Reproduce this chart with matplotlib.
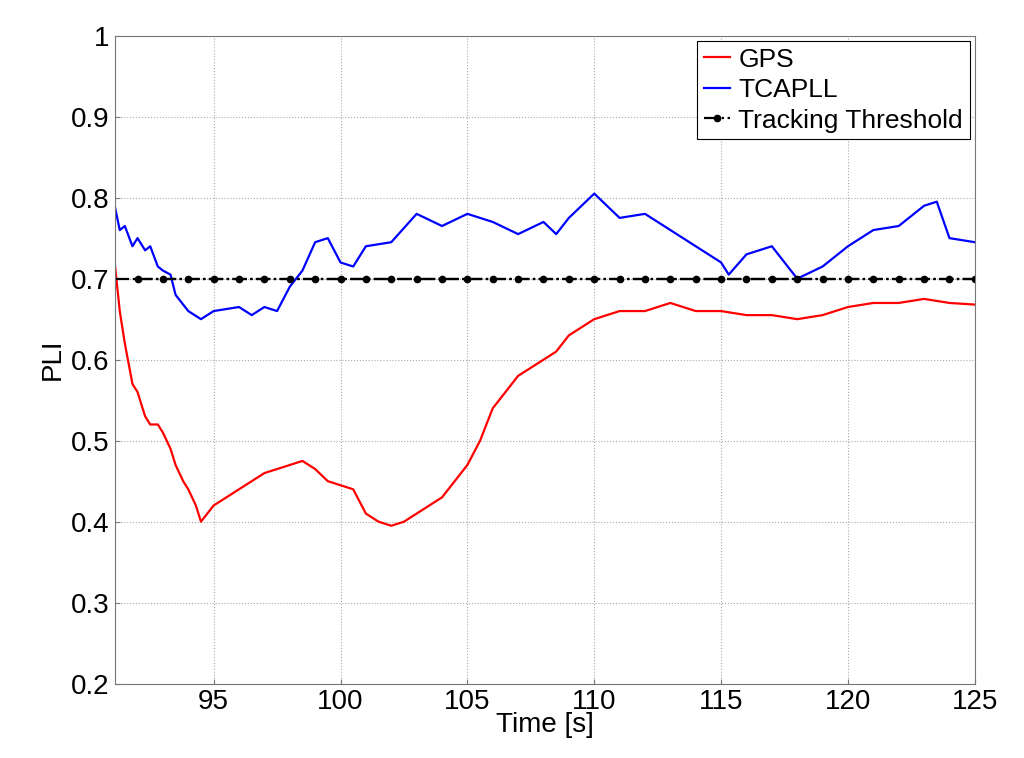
import matplotlib
matplotlib.use("Agg")
import matplotlib.pyplot as plt
import numpy as np

plt.rcParams["font.family"] = "Liberation Sans"

gps_t = [91.1,91.3,91.5,91.8,92,92.3,92.5,92.8,93,93.3,93.5,93.8,94,94.3,94.5,95,96,97,98,98.5,99,99.5,100,100.5,101,101.5,102,102.5,103,104,104.5,105,105.5,106,107,108,108.5,109,110,111,112,113,114,115,116,117,118,119,120,121,122,123,124,125]
gps_v = [0.72,0.66,0.62,0.57,0.56,0.53,0.52,0.52,0.51,0.49,0.47,0.45,0.44,0.42,0.40,0.42,0.44,0.46,0.47,0.475,0.465,0.45,0.445,0.44,0.41,0.40,0.395,0.40,0.41,0.43,0.45,0.47,0.50,0.54,0.58,0.60,0.61,0.63,0.65,0.66,0.66,0.67,0.66,0.66,0.655,0.655,0.65,0.655,0.665,0.67,0.67,0.675,0.67,0.668]
tca_t = [91.1,91.3,91.5,91.8,92,92.3,92.5,92.8,93,93.3,93.5,94,94.5,95,96,96.5,97,97.5,98,98.5,99,99.5,100,100.5,101,102,103,104,105,106,107,108,108.5,109,110,110.5,111,112,113,114,115,115.3,116,117,117.5,118,119,120,121,122,123,123.5,124,125]
tca_v = [0.79,0.76,0.765,0.74,0.75,0.735,0.74,0.715,0.71,0.705,0.68,0.66,0.65,0.66,0.665,0.655,0.665,0.66,0.69,0.71,0.745,0.75,0.72,0.715,0.74,0.745,0.78,0.765,0.78,0.77,0.755,0.77,0.755,0.775,0.805,0.79,0.775,0.78,0.76,0.74,0.72,0.705,0.73,0.74,0.72,0.70,0.715,0.74,0.76,0.765,0.79,0.795,0.75,0.745]
thr_t = list(range(92, 126))
thr_v = [0.7] * len(thr_t)

fig = plt.figure(figsize=(10.24, 7.58), dpi=100)
ax = fig.add_axes([0.112, 0.098, 0.84, 0.855])
ax.plot(gps_t, gps_v, color="red", lw=1.6, label="GPS")
ax.plot(tca_t, tca_v, color="blue", lw=1.6, label="TCAPLL")
ax.axhline(0.7, color="black", ls="-.", lw=1.6)
ax.plot(thr_t, thr_v, color="black", ls="-.", marker="o", ms=4.5, lw=1.6, label="Tracking Threshold")
ax.set_xlim(91.1, 125)
ax.set_ylim(0.2, 1)
ax.set_xticks([95,100,105,110,115,120,125])
ax.set_yticks(np.arange(0.2, 1.01, 0.1))
ax.set_yticklabels(["0.2","0.3","0.4","0.5","0.6","0.7","0.8","0.9","1"])
ax.grid(True, ls=":", color="#aaaaaa", lw=0.8)
for s in ax.spines.values():
    s.set_color("#777777")
ax.tick_params(labelsize=20, direction="in", colors="#777777", labelcolor="black")
ax.set_xlabel("Time [s]", fontsize=20, labelpad=-2)
ax.set_ylabel("PLI", fontsize=20, labelpad=4)
leg = ax.legend(loc="upper right", fontsize=19, fancybox=False, edgecolor="black",
                handlelength=1.0, handletextpad=0.3, borderaxespad=0.2, labelspacing=0.25,
                borderpad=0.25, framealpha=1)
leg.get_frame().set_linewidth(0.8)
fig.savefig("out.png", dpi=100)
